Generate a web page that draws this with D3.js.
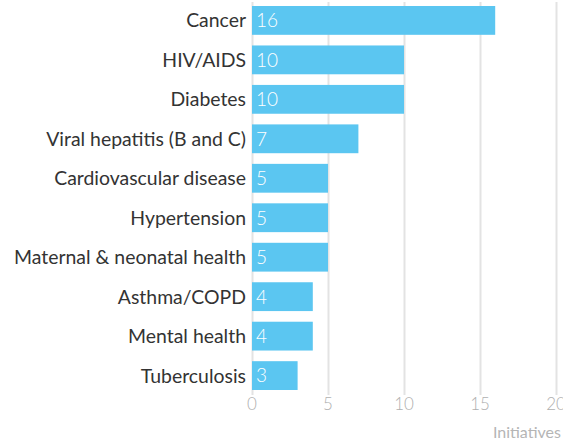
<!DOCTYPE html>
<html><head><meta charset="utf-8">
<script src="https://cdn.jsdelivr.net/npm/d3@7"></script>
<style>body{margin:0;background:#fff}svg{display:block}</style>
</head><body><svg id="c" width="563" height="444"></svg>
<script>
const categories = ["Cancer","HIV/AIDS","Diabetes","Viral hepatitis (B and C)","Cardiovascular disease","Hypertension","Maternal & neonatal health","Asthma/COPD","Mental health","Tuberculosis"];
const values = [16,10,10,7,5,5,5,4,4,3];
const ticks = [0,5,10,15,20];
const axisTitle = "Initiatives";

const svg = d3.select("#c");
const x = d3.scaleLinear().domain([0,20]).range([252,556]);
const y = d3.scaleBand().domain(categories).range([6,390]).paddingInner(0.27).paddingOuter(0);

const g = svg.append("g");
g.selectAll("line.grid").data(ticks).join("line")
  .attr("x1",d=>Math.round(x(d))+0.5).attr("x2",d=>Math.round(x(d))+0.5)
  .attr("y1",2).attr("y2",395).attr("stroke","#e3e3e3").attr("stroke-width",2);

g.selectAll("rect").data(values).join("rect")
  .attr("x",x(0)).attr("y",(d,i)=>y(categories[i]))
  .attr("width",d=>x(d)-x(0)).attr("height",y.bandwidth())
  .attr("fill","#5bc6f1");

g.selectAll("text.val").data(values).join("text")
  .attr("x",x(0)+4).attr("y",(d,i)=>y(categories[i])+y.bandwidth()/2)
  .attr("dy","0.36em").attr("fill","#fff")
  .style("font-family","Lato").style("font-weight",300).style("font-size","19px")
  .text(d=>d);

const catText = g.selectAll("text.cat").data(categories).join("text")
  .attr("x",246).attr("y",d=>y(d)+y.bandwidth()/2).attr("dy","0.36em")
  .attr("text-anchor","end").attr("fill","#333")
  .style("font-family","Lato").style("font-size","17px")
  .text(d=>d);
// fit widest label to reference width (~232px)
const widest = d3.max(catText.nodes(), n=>n.getComputedTextLength());
catText.style("font-size", (17*232/widest).toFixed(2)+"px");

g.selectAll("text.tick").data(ticks).join("text")
  .attr("x",d=>x(d)).attr("y",404).attr("dy","0.36em").attr("text-anchor","middle")
  .attr("fill","#b0b0b0").style("font-family","Lato").style("font-weight",300).style("font-size","17px")
  .text(d=>d);

svg.append("text").attr("x",561).attr("y",432).attr("dy","0.36em").attr("text-anchor","end")
  .attr("fill","#b5b5b5").style("font-family","Lato").style("font-size","16px").text(axisTitle);
</script></body></html>
